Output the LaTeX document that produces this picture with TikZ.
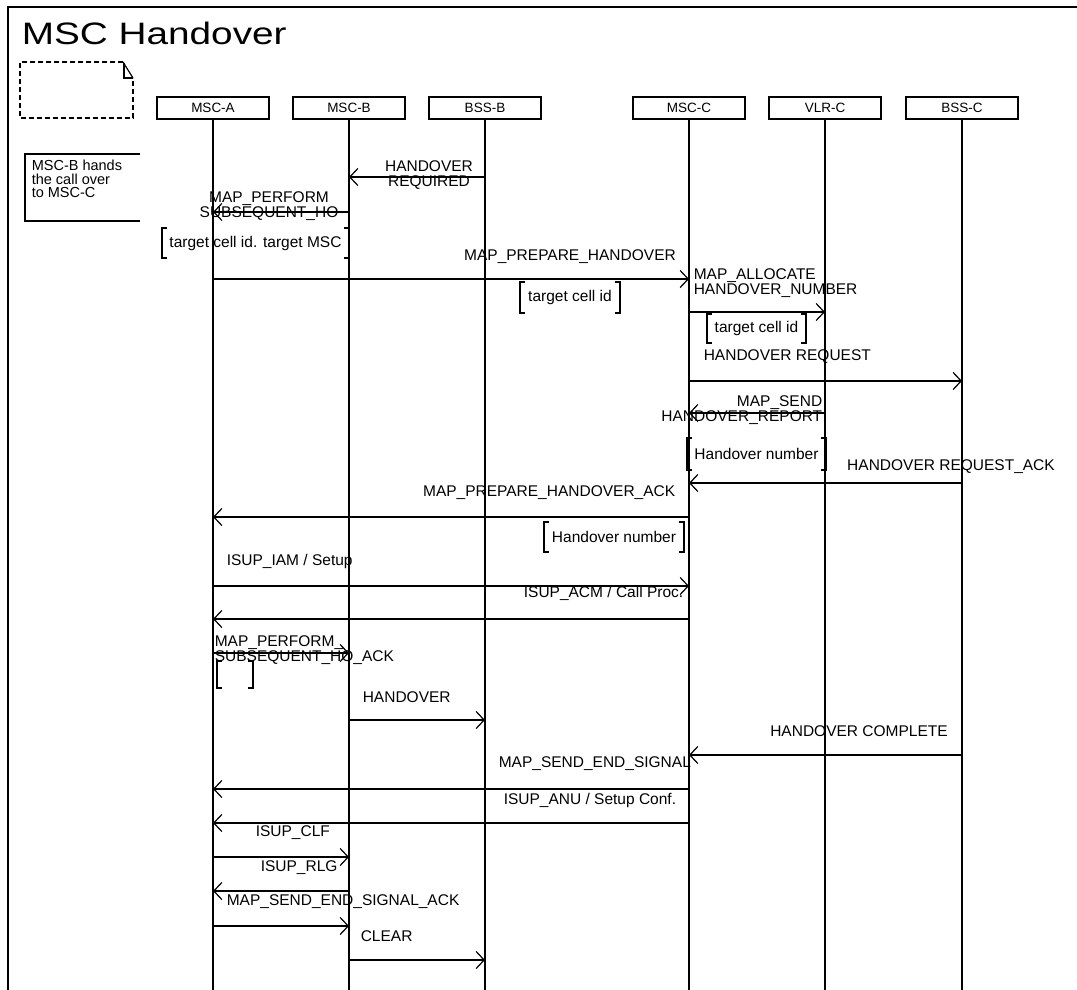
\documentclass[tikz,border=0pt]{standalone}
\usepackage{fontspec}
\setmainfont{Liberation Sans}
\newfontfamily\titlefont[FakeStretch=1.25]{Liberation Sans}
\usetikzlibrary{arrows.meta}
\newcommand\lblfont{\fontsize{15.5}{15.5}\selectfont}
\newcommand\condbox[6]{%
  \node[condnode, minimum width=#4pt, minimum height=#5pt] (#1) at (#2,#3) {#6};
  \draw[brk] ([xshift=5pt]#1.north west) -- (#1.north west) -- (#1.south west) -- ([xshift=5pt]#1.south west);
  \draw[brk] ([xshift=-5pt]#1.north east) -- (#1.north east) -- (#1.south east) -- ([xshift=-5pt]#1.south east);
}
\begin{document}
\begin{tikzpicture}[x=1pt,y=-1pt,line width=1.6pt,
  head/.style={draw,line width=1.6pt,minimum width=112pt,minimum height=22pt,inner sep=0pt,font=\fontsize{13.5}{14}\selectfont},
  life/.style={line width=1.7pt},
  msg/.style={line width=1.6pt,-{Straight Barb[length=8pt,width=17pt,line width=1.2pt]}},
  lbl/.style={inner sep=0pt,font=\lblfont},
  condnode/.style={inner sep=0pt,font=\lblfont},
  brk/.style={line width=1.6pt}]
\useasboundingbox (0,0) rectangle (1077,990);
\fill[white] (0,0) rectangle (1077,990);
% frame
\draw[line width=1.7pt] (8,992) -- (8,7) -- (1079,7);
% title
\node[anchor=base west,inner sep=0pt,font=\titlefont\fontsize{31}{31}\selectfont] (title) at (21,45) {MSC Handover};
% note symbol
\draw[line width=1.3pt,dash pattern=on 5pt off 3pt] (123,62) -- (20,62) -- (20,118) -- (133,118) -- (133,78);
\draw[line width=1.2pt] (123,62) -- (133,78);
\draw[line width=1.2pt] (124,63) -- (124,78) -- (133,78);
% comment
\draw[line width=1.6pt] (140,154) -- (25,154) -- (25,221) -- (140,221);
\node[anchor=west,inner sep=0pt,align=left,font=\fontsize{14.5}{13.5}\selectfont] (comment) at (31,179) {MSC-B hands\\the call over\\to MSC-C};
% instance heads
\node[head] (hA)  at (213,108) {MSC-A};
\node[head] (hB)  at (349,108) {MSC-B};
\node[head] (hBB) at (485,108) {BSS-B};
\node[head] (hC)  at (689,108) {MSC-C};
\node[head] (hV)  at (825,108) {VLR-C};
\node[head] (hBC) at (962,108) {BSS-C};
\coordinate (bot) at (0,990);
\foreach \h in {hA,hB,hBB,hC,hV,hBC} \draw[life] (\h.south) -- (\h |- bot);
% message rows
\coordinate (r1) at (0,177);
\coordinate (r2) at (0,212);
\coordinate (r3) at (0,279);
\coordinate (r4) at (0,312);
\coordinate (r5) at (0,381);
\coordinate (r6) at (0,413);
\coordinate (r7) at (0,483);
\coordinate (r8) at (0,517);
\coordinate (r9) at (0,586);
\coordinate (r10) at (0,619);
\coordinate (r11) at (0,653);
\coordinate (r12) at (0,720);
\coordinate (r13) at (0,755);
\coordinate (r14) at (0,789);
\coordinate (r15) at (0,823);
\coordinate (r16) at (0,857);
\coordinate (r17) at (0,891);
\coordinate (r18) at (0,926);
\coordinate (r19) at (0,960);
% messages
\draw[msg] (hBB |- r1) -- (hB |- r1);
\draw[msg] (hB |- r2) -- (hA |- r2);
\draw[msg] (hA |- r3) -- (hC |- r3);
\draw[msg] (hC |- r4) -- (hV |- r4);
\draw[msg] (hC |- r5) -- (hBC |- r5);
\draw[msg] (hV |- r6) -- (hC |- r6);
\draw[msg] (hBC |- r7) -- (hC |- r7);
\draw[msg] (hC |- r8) -- (hA |- r8);
\draw[msg] (hA |- r9) -- (hC |- r9);
\draw[msg] (hC |- r10) -- (hA |- r10);
\draw[msg] (hA |- r11) -- (hB |- r11);
\draw[msg] (hB |- r12) -- (hBB |- r12);
\draw[msg] (hBC |- r13) -- (hC |- r13);
\draw[msg] (hC |- r14) -- (hA |- r14);
\draw[msg] (hC |- r15) -- (hA |- r15);
\draw[msg] (hA |- r16) -- (hB |- r16);
\draw[msg] (hB |- r17) -- (hA |- r17);
\draw[msg] (hA |- r18) -- (hB |- r18);
\draw[msg] (hB |- r19) -- (hBB |- r19);
% labels
\node[lbl,align=center] (l1) at (429,175) {HANDOVER\\REQUIRED};
\node[lbl,align=center] (l2) at (269,206) {MAP\_PERFORM\\SUBSEQUENT\_HO};
\node[lbl] (l3) at (570,257) {MAP\_PREPARE\_HANDOVER};
\node[lbl,align=left,anchor=west] (l4) at (693,283) {MAP\_ALLOCATE\\HANDOVER\_NUMBER};
\node[lbl,anchor=west] (l5) at (703,357) {HANDOVER REQUEST};
\node[lbl,align=right,anchor=east] (l6) at (823,410) {MAP\_SEND\\HANDOVER\_REPORT};
\node[lbl] (l7) at (951,467) {HANDOVER REQUEST\_ACK};
\node[lbl,anchor=east] (l8) at (676,493) {MAP\_PREPARE\_HANDOVER\_ACK};
\node[lbl,anchor=west] (l9) at (226,561) {ISUP\_IAM / Setup};
\node[lbl,anchor=east] (l10) at (684,593) {ISUP\_ACM / Call Proc.};
\node[lbl,align=left,anchor=west] (l11) at (214,650) {MAP\_PERFORM\_\\SUBSEQUENT\_HO\_ACK};
\node[lbl,anchor=west] (l12) at (362,697) {HANDOVER};
\node[lbl] (l13) at (859,731) {HANDOVER COMPLETE};
\node[lbl,anchor=west] (l14) at (498,764) {MAP\_SEND\_END\_SIGNAL};
\node[lbl,anchor=west] (l15) at (503,800) {ISUP\_ANU / Setup Conf.};
\node[lbl,anchor=west] (l16) at (255,833) {ISUP\_CLF};
\node[lbl,anchor=west] (l17) at (260,868) {ISUP\_RLG};
\node[lbl,anchor=west] (l18) at (226,902) {MAP\_SEND\_END\_SIGNAL\_ACK};
\node[lbl,anchor=west] (l19) at (360,936) {CLEAR};
% conditions
\condbox{c1}{255.5}{243}{185}{28}{target cell id. target MSC}
\condbox{c2}{570}{297.5}{98}{29}{target cell id}
\condbox{c3}{756.5}{328.5}{97}{27}{target cell id}
\condbox{c4}{756.5}{454}{137}{30}{Handover number}
\condbox{c5}{614}{537}{138}{28}{Handover number}
\condbox{c6}{235}{674.5}{34}{25}{}
\end{tikzpicture}
\end{document}
